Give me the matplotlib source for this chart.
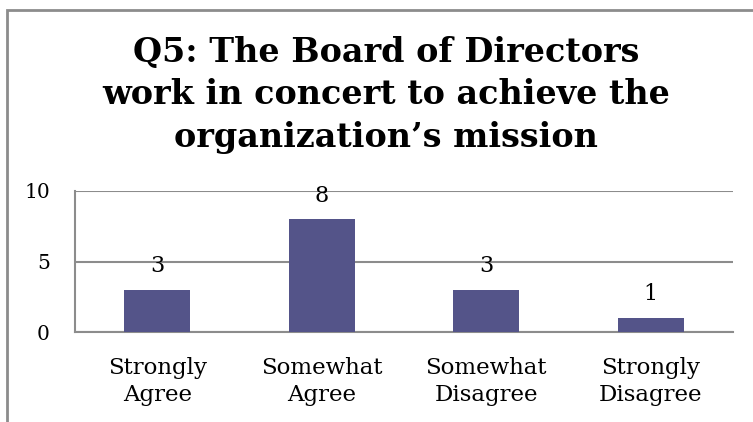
import matplotlib.pyplot as plt
from matplotlib.patches import Rectangle

# survey responses for Q5
categories = ["Strongly\nAgree", "Somewhat\nAgree", "Somewhat\nDisagree", "Strongly\nDisagree"]
counts = [3, 8, 3, 1]
y_ticks = [0, 5, 10]

title = "Q5: The Board of Directors\nwork in concert to achieve the\norganization\u2019s mission"

plt.rcParams['font.family'] = ['DejaVu Serif']

W, H = 753, 422
fig = plt.figure(figsize=(W / 100, H / 100), dpi=100)

# outer chart frame (left and top edges visible)
fig.patches.append(Rectangle((7 / W, -0.1), 1.2, (H - 10) / H + 0.1,
                             transform=fig.transFigure, fill=False,
                             edgecolor='#8c8c8c', linewidth=2))

ax = fig.add_axes([75 / W, (H - 332) / H, (733 - 75) / W, (332 - 191) / H])
x = range(len(categories))
bars = ax.bar(x, counts, width=0.4, color='#545489', zorder=3)

ax.set_xlim(-0.5, len(categories) - 0.5)
ax.set_ylim(0, 10)
ax.set_yticks(y_ticks)
ax.set_yticklabels([str(t) for t in y_ticks], fontsize=14.5)
ax.set_xticks(list(x))
ax.set_xticklabels(categories, fontsize=16.5, linespacing=1.28)
ax.tick_params(length=0)
ax.tick_params(axis='x', pad=18)
ax.tick_params(axis='y', pad=18)

ax.grid(axis='y', color='#8c8c8c', linewidth=1.5, zorder=0)
for side in ['top', 'right']:
    ax.spines[side].set_visible(False)
for side in ['left', 'bottom']:
    ax.spines[side].set_color('#8c8c8c')
    ax.spines[side].set_linewidth(1.5)

for b, v in zip(bars, counts):
    ax.annotate(str(v), (b.get_x() + b.get_width() / 2, v),
                xytext=(0, 9), textcoords='offset points',
                ha='center', va='bottom', fontsize=16)

fig.text(386 / W, 1 - 36 / H, title, ha='center', va='top',
         fontsize=24, fontweight='bold', linespacing=1.36)

fig.savefig('out.png', dpi=100)
